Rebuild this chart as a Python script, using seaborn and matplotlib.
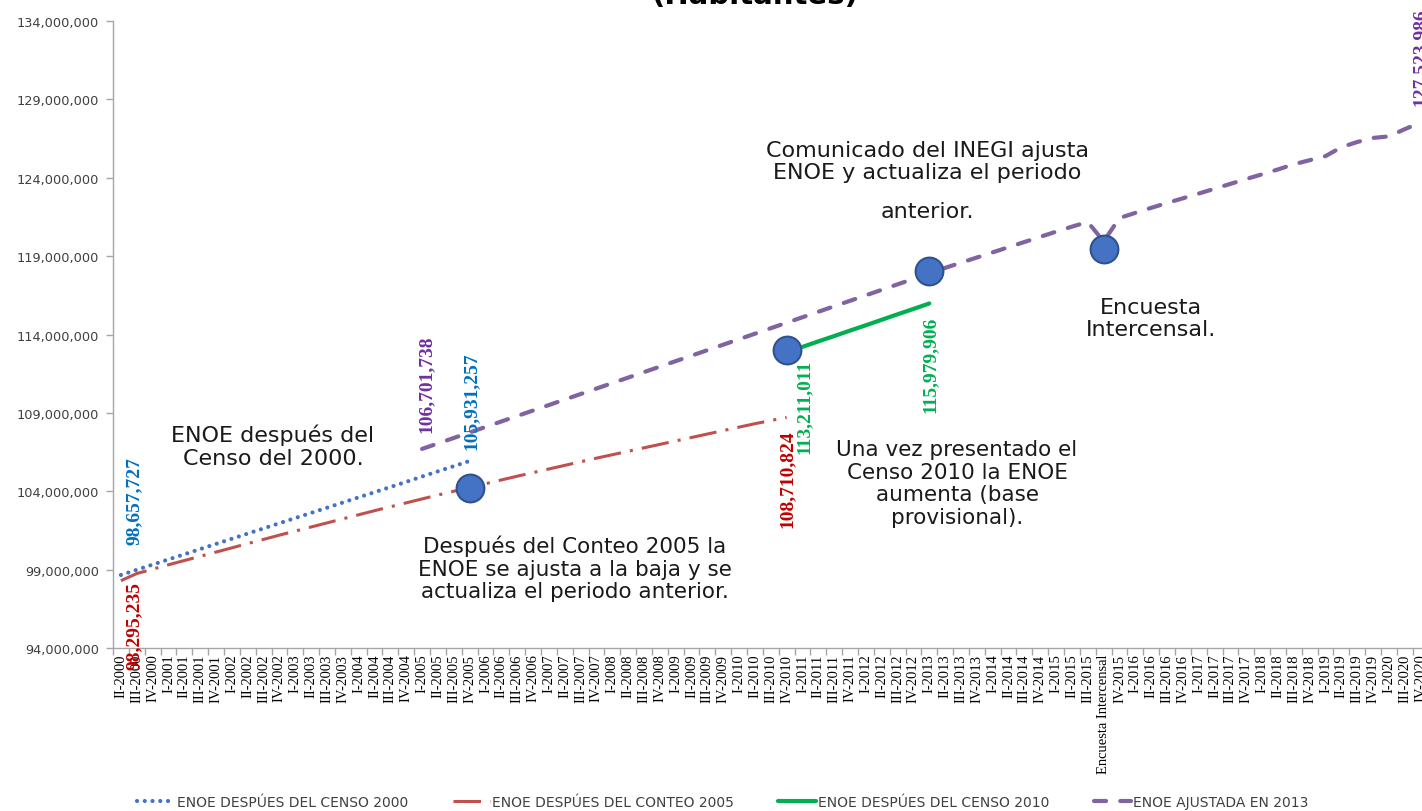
import matplotlib
matplotlib.use("Agg")
import matplotlib.pyplot as plt
import seaborn as sns
import pandas as pd
import numpy as np
from matplotlib.ticker import FuncFormatter, FixedLocator

# ---------------- data ----------------
categories = [
    "II-2000", "III-2000", "IV-2000",
    "I-2001", "II-2001", "III-2001", "IV-2001",
    "I-2002", "II-2002", "III-2002", "IV-2002",
    "I-2003", "II-2003", "III-2003", "IV-2003",
    "I-2004", "II-2004", "III-2004", "IV-2004",
    "I-2005", "II-2005", "III-2005", "IV-2005",
    "I-2006", "II-2006", "III-2006", "IV-2006",
    "I-2007", "II-2007", "III-2007", "IV-2007",
    "I-2008", "II-2008", "III-2008", "IV-2008",
    "I-2009", "II-2009", "III-2009", "IV-2009",
    "I-2010", "II-2010", "III-2010", "IV-2010",
    "I-2011", "II-2011", "III-2011", "IV-2011",
    "I-2012", "II-2012", "III-2012", "IV-2012",
    "I-2013", "II-2013", "III-2013", "IV-2013",
    "I-2014", "II-2014", "III-2014", "IV-2014",
    "I-2015", "II-2015", "III-2015", "Encuesta Intercensal", "IV-2015",
    "I-2016", "II-2016", "III-2016", "IV-2016",
    "I-2017", "II-2017", "III-2017", "IV-2017",
    "I-2018", "II-2018", "III-2018", "IV-2018",
    "I-2019", "II-2019", "III-2019", "IV-2019",
    "I-2020", "III-2020", "IV-2020",
]

censo2000_start = "II-2000"
censo2000_values = [98657727, 98990000, 99320000, 99650000, 99980000, 100310000,
                    100640000, 100970000, 101300000, 101630000, 101960000, 102290000,
                    102620000, 102950000, 103280000, 103610000, 103940000, 104270000,
                    104600000, 104940000, 105270000, 105600000, 105931257]

conteo2005_start = "II-2000"
conteo2005_values = [98295235, 98750000, 99030000, 99310000, 99580000, 99850000,
                     100120000, 100390000, 100660000, 100930000, 101200000, 101460000,
                     101720000, 101980000, 102240000, 102500000, 102760000, 103010000,
                     103260000, 103510000, 103760000, 104000000, 104240000, 104480000,
                     104720000, 104960000, 105190000, 105420000, 105650000, 105880000,
                     106110000, 106330000, 106550000, 106770000, 106990000, 107210000,
                     107430000, 107650000, 107870000, 108090000, 108310000, 108510000,
                     108710824]

censo2010_start = "I-2011"
censo2010_values = [113211011, 113560000, 113900000, 114250000, 114590000,
                    114940000, 115290000, 115630000, 115979906]

ajustada2013_start = "I-2005"
ajustada2013_values = [106701738, 107050000, 107400000, 107750000, 108100000, 108450000,
                       108800000, 109150000, 109500000, 109850000, 110200000, 110550000,
                       110900000, 111250000, 111600000, 111950000, 112300000, 112650000,
                       113000000, 113350000, 113700000, 114050000, 114400000, 114750000,
                       115100000, 115450000, 115800000, 116150000, 116500000, 116850000,
                       117200000, 117550000, 117900000, 118250000, 118580000, 118910000,
                       119240000, 119570000, 119900000, 120230000, 120560000, 120880000,
                       121180000, 119938473, 121430000, 121760000, 122080000, 122390000,
                       122690000, 122990000, 123300000, 123610000, 123920000, 124220000,
                       124530000, 124860000, 125120000, 125380000, 125950000, 126280000,
                       126540000, 126640000, 127100000, 127523986]

legend_labels = ["ENOE DESPÚES DEL CENSO 2000", "ENOE DESPÚES DEL CONTEO 2005",
                 "ENOE DESPÚES DEL CENSO 2010", "ENOE AJUSTADA EN 2013"]

y_ticks = [94000000, 99000000, 104000000, 109000000, 114000000,
           119000000, 124000000, 129000000, 134000000]

callout_cats = ["IV-2005", "IV-2010", "I-2013", "Encuesta Intercensal"]
callout_vals = [104200000, 113000000, 118050000, 119450000]

title_text = "(Habitantes)"

# ---------------- helpers ----------------
def frame(start, values):
    i0 = categories.index(start)
    return pd.DataFrame({"pos": np.arange(i0, i0 + len(values)), "value": values})

df_c00 = frame(censo2000_start, censo2000_values)
df_c05 = frame(conteo2005_start, conteo2005_values)
df_c10 = frame(censo2010_start, censo2010_values)
df_a13 = frame(ajustada2013_start, ajustada2013_values)

W, H = 1422, 812
sns.set_theme(style="white")
plt.rcParams["font.family"] = ["DejaVu Sans"]

fig = plt.figure(figsize=(W / 100, H / 100), dpi=100)
fig.patch.set_facecolor("white")
ax = fig.add_axes([113 / W, 1 - 649 / H, (83 * 15.85) / W, 627 / H])
ax.set_facecolor("none")

c_blue, c_red, c_green, c_purple = "#4472C4", "#C0504D", "#00B050", "#8064A2"

sns.lineplot(data=df_c00, x="pos", y="value", ax=ax, color=c_blue, linewidth=3.0,
             linestyle=(0, (0.01, 1.85)), dash_capstyle="round", label=legend_labels[0])
sns.lineplot(data=df_c05, x="pos", y="value", ax=ax, color=c_red, linewidth=2.2,
             linestyle=(0, (9, 3, 1, 3)), dash_capstyle="butt", label=legend_labels[1])
sns.lineplot(data=df_c10, x="pos", y="value", ax=ax, color=c_green, linewidth=3.0,
             linestyle="-", label=legend_labels[2])
sns.lineplot(data=df_a13, x="pos", y="value", ax=ax, color=c_purple, linewidth=3.0,
             linestyle=(0, (2.9, 3.4)), dash_capstyle="round", label=legend_labels[3])

handles, labels = ax.get_legend_handles_labels()
if ax.get_legend() is not None:
    ax.get_legend().remove()

# callout circles
ax.scatter([categories.index(c) for c in callout_cats], callout_vals, s=400,
           color="#4472C4", edgecolor="#2F528F", linewidth=1.5, zorder=5)

# axes
ax.set_xlim(-0.5, len(categories) - 0.5)
ax.set_ylim(94000000, 134000000)
ax.set_xlabel("")
ax.set_ylabel("")
ax.set_xticks(range(len(categories)))
ax.set_xticklabels(categories, rotation=90, fontsize=10.5, family="Liberation Serif",
                   color="#000000")
ax.xaxis.set_minor_locator(FixedLocator(np.arange(-0.5, len(categories), 1.0)))
ax.tick_params(axis="x", which="major", length=0, pad=4)
ax.tick_params(axis="x", which="minor", length=5, width=1, color="#A6A6A6", bottom=True)
ax.set_yticks(y_ticks)
ax.yaxis.set_major_formatter(FuncFormatter(lambda v, p: f"{v:,.0f}"))
ax.tick_params(axis="y", length=5, width=1, color="#A6A6A6", pad=5, labelsize=9.3,
               labelcolor="#404040", left=True)
for s in ["top", "right"]:
    ax.spines[s].set_visible(False)
for s in ["left", "bottom"]:
    ax.spines[s].set_color("#A6A6A6")
    ax.spines[s].set_linewidth(1)
ax.grid(False)

# data labels
def vlabel(df, idx, text, color, dx, dy, va):
    r = df.iloc[idx]
    ax.annotate(text, xy=(r["pos"], r["value"]), xytext=(dx, dy),
                textcoords="offset pixels", rotation=90, ha="center", va=va,
                fontsize=14, fontweight="bold", family="Liberation Serif",
                color=color, zorder=6)

vlabel(df_c00, 0, f"{censo2000_values[0]:,}", "#0070C0", 13, 31, "bottom")
vlabel(df_c05, 0, f"{conteo2005_values[0]:,}", "#C00000", 13, 0, "top")
vlabel(df_a13, 0, f"{ajustada2013_values[0]:,}", "#7030A0", 4, 17, "bottom")
vlabel(df_c00, -1, f"{censo2000_values[-1]:,}", "#0070C0", 2, 12, "bottom")
vlabel(df_c05, -1, f"{conteo2005_values[-1]:,}", "#C00000", 1, -12, "top")
vlabel(df_c10, 0, f"{censo2010_values[0]:,}", "#00B050", 2, -12, "top")
vlabel(df_c10, -1, f"{censo2010_values[-1]:,}", "#00B050", 1, -12, "top")
vlabel(df_a13, -1, f"{ajustada2013_values[-1]:,}", "#7030A0", 0, 18, "bottom")

# annotation text blocks
def ftext(x, y, s, size=16, **kw):
    fig.text(x / W, 1 - y / H, s, ha="center", va="center", multialignment="center",
             fontsize=size, color="#1A1A1A", linespacing=1.17, **kw)

ftext(273, 447, "ENOE después del\nCenso del 2000.")
ftext(575, 569, "Después del Conteo 2005 la\nENOE se ajusta a la baja y se\nactualiza el periodo anterior.", size=15.5)
ftext(927, 162, "Comunicado del INEGI ajusta\nENOE y actualiza el periodo")
ftext(927, 212, "anterior.")
ftext(1151, 319, "Encuesta\nIntercensal.")
ftext(957, 484, "Una vez presentado el\nCenso 2010 la ENOE\naumenta (base\nprovisional).", size=15.5)

# title (cut at top)
fig.text(755 / W, 1 - 4 / H, title_text, ha="center", va="baseline", fontsize=21,
         fontweight="bold", color="#000000")

# legend
fig.legend(handles, labels, loc="center", bbox_to_anchor=(723 / W, 1 - 803 / H),
           ncol=4, frameon=False, fontsize=10, handlelength=2.7, handletextpad=0.15,
           columnspacing=3.2, labelcolor="#404040")

fig.savefig("out.png", dpi=100)
